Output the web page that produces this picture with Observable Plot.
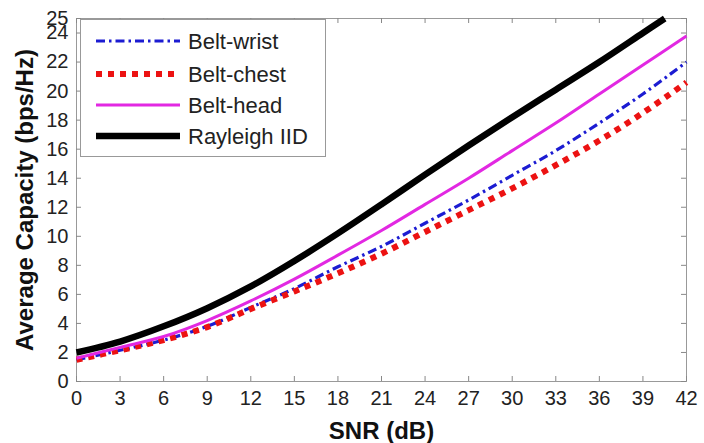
<!DOCTYPE html>
<html><head><meta charset="utf-8">
<script src="https://cdn.jsdelivr.net/npm/d3@7"></script>
<script src="https://cdn.jsdelivr.net/npm/@observablehq/plot@0.6"></script>
<style>
body{margin:0;background:#fff;}
#wrap{position:relative;width:704px;height:443px;}
#legend{position:absolute;left:80px;top:19px;}
</style></head><body><div id="wrap"></div>
<script>
// ---- data ----
const snr = [0, 3, 6, 9, 12, 15, 18, 21, 24, 27, 30, 33, 36, 39, 42];
const beltWrist = [1.5, 2.15, 2.85, 3.8, 5.1, 6.4, 7.9, 9.3, 10.9, 12.5, 14.2, 15.9, 17.8, 19.8, 22.0];
const beltChest = [1.5, 2.15, 2.85, 3.75, 5.0, 6.2, 7.45, 8.8, 10.3, 11.8, 13.3, 14.9, 16.6, 18.5, 20.6];
const beltHead  = [1.6, 2.35, 3.1, 4.2, 5.55, 7.05, 8.7, 10.4, 12.2, 14.0, 15.9, 17.8, 19.8, 21.8, 23.8];
const rayleighSnr = [0, 3, 6, 9, 12, 15, 18, 21, 24, 27, 30, 33, 36, 39, 40.5];
const rayleighIID = [2.0, 2.75, 3.8, 5.05, 6.55, 8.3, 10.2, 12.2, 14.25, 16.25, 18.2, 20.1, 22.0, 24.0, 25.0];
const seriesNames = ["Belt-wrist", "Belt-chest", "Belt-head", "Rayleigh IID"];
const xTicks = [0, 3, 6, 9, 12, 15, 18, 21, 24, 27, 30, 33, 36, 39, 42];
const yTicks = [0, 2, 4, 6, 8, 10, 12, 14, 16, 18, 20, 22, 24, 25];
const xLabel = "SNR (dB)";
const yLabel = "Average Capacity (bps/Hz)";

// ---- styles ----
const styles = {
  "Belt-wrist":   {stroke: "#1c1cd2", strokeWidth: 3.2, strokeDasharray: "9,4,2.5,4"},
  "Belt-chest":   {stroke: "#ec1212", strokeWidth: 6,   strokeDasharray: "6,6"},
  "Belt-head":    {stroke: "#e228e2", strokeWidth: 3},
  "Rayleigh IID": {stroke: "#000000", strokeWidth: 6.5}
};
const seriesData = [
  snr.map((x, i) => ({x, y: beltWrist[i]})),
  snr.map((x, i) => ({x, y: beltChest[i]})),
  snr.map((x, i) => ({x, y: beltHead[i]})),
  rayleighSnr.map((x, i) => ({x, y: rayleighIID[i]}))
];

const W = 704, H = 443, mL = 76, mR = 18, mT = 18, mB = 62;
const innerW = W - mL - mR, innerH = H - mT - mB, tk = 5;
const font = "'Liberation Sans', Arial, Helvetica, sans-serif";

const chart = Plot.plot({
  width: W, height: H,
  marginLeft: mL, marginRight: mR, marginTop: mT, marginBottom: mB,
  x: {domain: [0, 42]},
  y: {domain: [0, 25]},
  style: {fontFamily: font, fontSize: "20px", color: "#222", background: "white", overflow: "visible"},
  marks: [
    Plot.frame({stroke: "#999"}),
    Plot.tickX(xTicks, {x: d => d, insetTop: innerH - tk, stroke: "#888"}),
    Plot.tickX(xTicks, {x: d => d, insetBottom: innerH - tk, stroke: "#888"}),
    Plot.tickY(yTicks, {y: d => d, insetRight: innerW - tk, stroke: "#888"}),
    Plot.tickY(yTicks, {y: d => d, insetLeft: innerW - tk, stroke: "#888"}),
    Plot.axisX({ticks: xTicks, tickSize: 0, tickPadding: 9, label: null, fontSize: 20}),
    Plot.axisY({ticks: yTicks, tickSize: 0, tickPadding: 8, label: null, fontSize: 20}),
    ...seriesNames.map((name, i) => Plot.line(seriesData[i], {x: "x", y: "y", ...styles[name], curve: "catmull-rom", strokeLinecap: "butt", strokeLinejoin: "round"})),
    Plot.text([xLabel], {text: d => d, frameAnchor: "bottom", dy: 50, fontSize: 24, fontWeight: "bold", fill: "#111", textAnchor: "middle", lineAnchor: "middle"}),
    Plot.text([yLabel], {text: d => d, frameAnchor: "left", dx: -51, rotate: -90, fontSize: 24, fontWeight: "bold", fill: "#111", textAnchor: "middle", lineAnchor: "middle"})
  ]
});
const wrap = document.getElementById("wrap");
wrap.appendChild(chart);

// ---- legend (overlay box in the upper-left corner) ----
const lg = d3.select(wrap).append("svg").attr("id", "legend")
  .attr("width", 247).attr("height", 139)
  .style("font-family", font);
lg.append("rect").attr("x", 0.5).attr("y", 0.5).attr("width", 245).attr("height", 137)
  .attr("fill", "white").attr("stroke", "#999");
const rowY = [22, 55, 86, 117];
seriesNames.forEach((name, i) => {
  const s = styles[name];
  lg.append("line").attr("x1", 16).attr("x2", 100).attr("y1", rowY[i]).attr("y2", rowY[i])
    .attr("stroke", s.stroke).attr("stroke-width", s.strokeWidth)
    .attr("stroke-dasharray", s.strokeDasharray || null);
  lg.append("text").attr("x", 108).attr("y", rowY[i]).attr("dy", "0.36em")
    .attr("font-size", 22).attr("fill", "#222").text(name);
});
</script></body></html>
